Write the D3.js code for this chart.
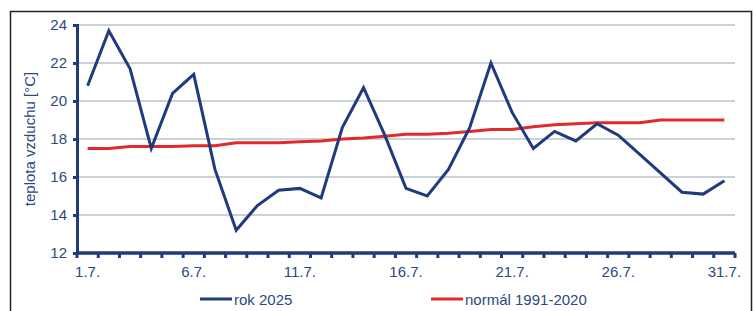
<!DOCTYPE html>
<html>
<head>
<meta charset="utf-8">
<script src="https://cdn.jsdelivr.net/npm/d3@7"></script>
<style>
  body { margin: 0; background: #fff; }
  svg { font-family: "Liberation Sans", Arial, sans-serif; }
</style>
</head>
<body>
<svg id="chart" width="754" height="311"></svg>
<script>
"use strict";

// denní průměrná teplota, červenec
const days = d3.range(1, 32).map(d => d + ".7.");
const rok2025 = [20.8, 23.7, 21.7, 17.5, 20.4, 21.4, 16.4, 13.2, 14.5, 15.3, 15.4, 14.9, 18.6, 20.7, 18.2,
                 15.4, 15.0, 16.4, 18.6, 22.0, 19.4, 17.5, 18.4, 17.9, 18.8, 18.2, 17.2, 16.2, 15.2, 15.1, 15.8];
const normal = [17.5, 17.5, 17.6, 17.6, 17.6, 17.65, 17.65, 17.8, 17.8, 17.8, 17.85, 17.9, 18.0, 18.05, 18.15,
                18.25, 18.25, 18.3, 18.4, 18.5, 18.5, 18.65, 18.75, 18.8, 18.85, 18.85, 18.85, 19.0, 19.0, 19.0, 19.0];
const yTicks = [12, 14, 16, 18, 20, 22, 24];
const xLabels = ["1.7.", "6.7.", "11.7.", "16.7.", "21.7.", "26.7.", "31.7."];
const seriesNames = ["rok 2025", "normál 1991-2020"];

const plotL = 77, plotR = 735, plotT = 25, plotB = 253;
const navy = "#1f3a7d";
const red = "#e2292b";
const textCol = "#2b4a80";

const svg = d3.select("#chart");

// rámeček
svg.append("rect")
    .attr("x", 10.5).attr("y", 11.5)
    .attr("width", 741).attr("height", 320)
    .attr("fill", "none").attr("stroke", "#222").attr("stroke-width", 1.5);

const x = d3.scaleBand().domain(days).range([plotL, plotR]);
const y = d3.scaleLinear().domain([12, 24]).range([plotB, plotT]);

// mřížka
svg.append("g").selectAll("line")
    .data(yTicks.filter(t => t > 12))
    .join("line")
    .attr("x1", plotL).attr("x2", plotR)
    .attr("y1", d => y(d)).attr("y2", d => y(d))
    .attr("stroke", "#b9c2cc").attr("stroke-width", 1.3);

// osa y
const yAxis = svg.append("g")
    .attr("transform", `translate(${plotL},0)`)
    .call(d3.axisLeft(y).tickValues(yTicks).tickSize(4).tickPadding(6));
yAxis.select(".domain").attr("stroke", navy).attr("stroke-width", 3);
yAxis.selectAll(".tick line").attr("stroke", navy).attr("stroke-width", 3);
yAxis.selectAll("text").attr("fill", textCol).attr("font-size", 15);

// osa x (ryska mezi kategoriemi)
const xAxis = svg.append("g")
    .attr("transform", `translate(0,${plotB})`);
xAxis.append("line")
    .attr("x1", plotL).attr("x2", plotR)
    .attr("stroke", navy).attr("stroke-width", 3.5);
xAxis.selectAll("line.tk")
    .data(days.concat(["end"]))
    .join("line")
    .attr("class", "tk")
    .attr("x1", (d, i) => plotL + i * x.bandwidth())
    .attr("x2", (d, i) => plotL + i * x.bandwidth())
    .attr("y1", 0).attr("y2", 5)
    .attr("stroke", navy).attr("stroke-width", 3);
xAxis.selectAll("text")
    .data(xLabels)
    .join("text")
    .attr("x", d => x(d) + x.bandwidth() / 2)
    .attr("y", 24)
    .attr("text-anchor", "middle")
    .attr("fill", textCol)
    .attr("font-size", 15)
    .text(d => d);

// popisek osy y
svg.append("text")
    .attr("transform", `translate(35,${(plotT + plotB) / 2}) rotate(-90)`)
    .attr("text-anchor", "middle")
    .attr("fill", textCol)
    .attr("font-size", 15)
    .text("teplota vzduchu [°C]");

const line = d3.line()
    .x((d, i) => x(days[i]) + x.bandwidth() / 2)
    .y(d => y(d));

svg.append("path")
    .datum(normal)
    .attr("d", line)
    .attr("fill", "none").attr("stroke", red).attr("stroke-width", 3);

svg.append("path")
    .datum(rok2025)
    .attr("d", line)
    .attr("fill", "none").attr("stroke", navy).attr("stroke-width", 3)
    .attr("stroke-linejoin", "miter");

// legenda
const legend = [
    { name: seriesNames[0], color: navy, x: 200 },
    { name: seriesNames[1], color: red, x: 431 }
];
const lg = svg.append("g").selectAll("g")
    .data(legend)
    .join("g")
    .attr("transform", d => `translate(${d.x},299)`);
lg.append("line")
    .attr("x1", 0).attr("x2", 32)
    .attr("stroke", d => d.color).attr("stroke-width", 3);
lg.append("text")
    .attr("x", 34).attr("y", 5.5)
    .attr("fill", textCol)
    .attr("font-size", 15)
    .text(d => d.name);
</script>
</body>
</html>
